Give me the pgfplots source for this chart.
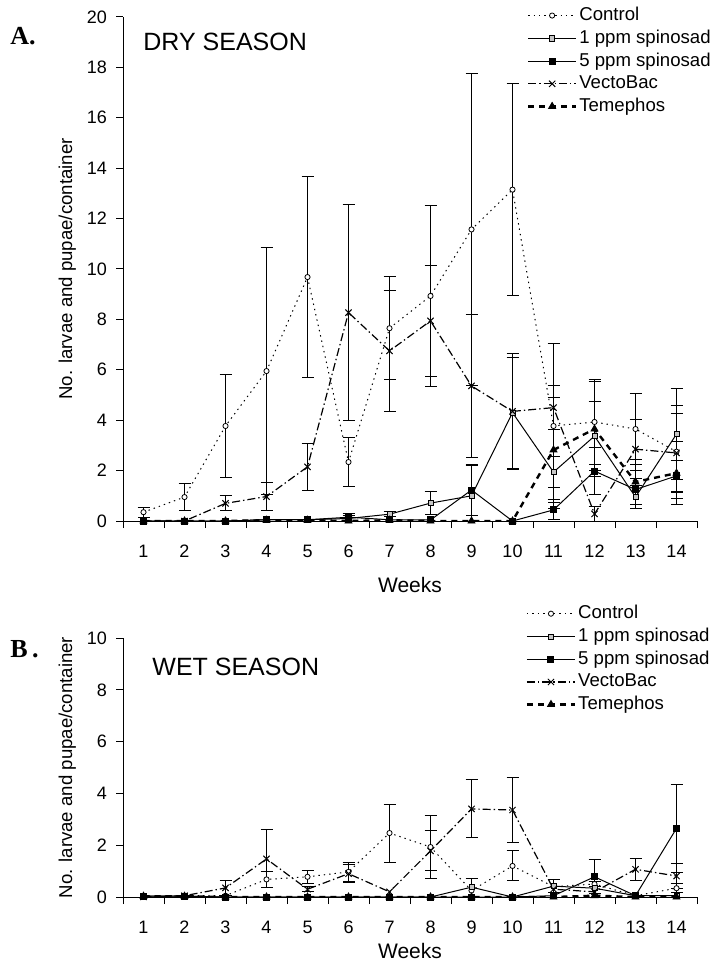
\documentclass[border=0pt]{standalone}
\usepackage{fontspec}
\setmainfont{Liberation Sans}
\newfontfamily\serifbold{Liberation Serif}
\usepackage{pgfplots}
\usepackage{pgfplotstable}
\pgfplotsset{compat=1.18}

% week, control, 1 ppm, 5 ppm, VectoBac, Temephos (mean and error)
\pgfplotstableread{
w  c     ce   p1   p1e  p5   p5e  v    ve   t    te
1  0.35  0.2  0    0    0    0    0    0    0    0
2  0.95  0.55 0    0    0    0    0    0    0    0
3  3.77  2.05 0    0    0    0    0.7  0.3  0    0
4  5.95  4.9  0.05 0    0.05 0    0.97 0.57 0.03 0
5  9.68  4.0  0.05 0    0.05 0    2.15 0.94 0.03 0
6  2.34  0.97 0.1  0.1  0.15 0.15 8.27 4.3  0    0
7  7.65  2.05 0.27 0.1  0.05 0    6.75 2.4  0.03 0
8  8.93  3.6  0.71 0.45 0.04 0    7.94 2.2  0    0
9  11.57 6.2  1.0  1.2  1.23 1.0  5.36 2.85 0    0
10 13.15 4.2  4.3  2.2  0    0    4.35 2.3  0    0
11 3.77  3.28 1.94 0.6  0.44 0.4  4.5  0.86 2.82 2.1
12 3.93  1.7  3.37 1.36 1.98 0.93 0.28 0.3  3.65 1.9
13 3.65  1.42 0.95 0.45 1.25 0.75 2.85 1.18 1.55 0.9
14 2.75  1.85 3.45 1.82 1.79 0.63 2.7  1.58 1.9  1.25
}\dry

\pgfplotstableread{
w  c     ce   p1   p1e  p5   p5e  v    ve   t    te
1  0.03  0    0.03 0    0.03 0    0    0    0.03 0
2  0.05  0    0.03 0    0.03 0    0.05 0    0.03 0
3  0.05  0    0    0    0    0    0.35 0.28 0    0
4  0.68  0.3  0    0    0    0    1.47 1.12 0    0
5  0.78  0.26 0    0    0    0    0.3  0.1  0    0
6  0.97  0.38 0    0    0    0    0.9  0.35 0    0
7  2.47  1.12 0    0    0    0    0.2  0    0    0
8  1.93  1.22 0    0    0    0    1.78 0.77 0    0
9  0.25  0    0.38 0.35 0    0    3.4  1.12 0    0
10 1.2   0.58 0    0    0    0    3.36 1.25 0    0
11 0.4   0    0.42 0.26 0.05 0    0.3  0    0    0
12 0.5   0.1  0.34 0    0.78 0.65 0.2  0    0.05 0
13 0.05  0    0.05 0    0.05 0    1.07 0.43 0    0
14 0.34  0.18 0.05 0    2.65 1.7  0.81 0.5  0    0
}\wet

\pgfplotsset{
  panel/.style={
    scale only axis, width=287pt,
    xmin=0.5, xmax=14.5, ymin=0,
    axis x line*=bottom, axis y line*=left,
    axis line style={line width=0.5pt},
    xtick={1,...,14}, minor xtick={0.5,1.5,...,14.5},
    major x tick style={draw=none},
    tick align=outside, major tick length=3.5pt, minor tick length=3.5pt,
    tick style={black, line width=0.5pt},
    /pgf/number format/assume math mode=true,
    ticklabel style={font=\fontsize{9}{10}\selectfont},
    xticklabel style={yshift=-5pt},
    yticklabel style={xshift=-1pt},
    xlabel={Weeks},
    ylabel={No. larvae and pupae/container},
    label style={font=\fontsize{9.3}{11}\selectfont},
    xlabel style={font=\fontsize{10.5}{12}\selectfont, anchor=center},
    ylabel style={at={(axis description cs:-0.097,0.5)}, anchor=center},
    legend cell align=left,
    legend style={draw=none, fill=none, inner sep=0pt, anchor=north west,
      font=\fontsize{9.3}{11}\selectfont, row sep=1.2pt,
      nodes={inner sep=1pt}},
    legend image code/.code={\draw[mark repeat=2, mark phase=2, ##1]
      plot coordinates {(0pt,0pt) (12pt,0pt) (24pt,0pt)};},
  },
  ctrl/.style={black, line width=0.5pt, dash pattern=on 0.7pt off 2pt,
    mark=*, mark size=1.3pt, mark options={solid, fill=white, line width=0.4pt}},
  pa/.style={black, line width=0.5pt, solid,
    mark=square*, mark size=1.3pt, mark options={solid, fill=gray!45, line width=0.4pt}},
  pb/.style={black, line width=0.5pt, solid,
    mark=square*, mark size=1.5pt, mark options={solid, fill=black}},
  vb/.style={black, line width=0.6pt, dash pattern=on 4pt off 1.5pt on 0.7pt off 1.5pt,
    mark=x, mark size=2.2pt, mark options={solid, line width=0.5pt}},
  tm/.style={black, line width=1.2pt, dash pattern=on 3pt off 2.5pt,
    mark=triangle*, mark size=2pt, mark options={solid, fill=black, line width=0.4pt}},
}

% error bars only where the error is not zero
\newcommand{\eb}[3]{\addplot[forget plot, draw=none, no markers,
  error bars/.cd, y dir=both, y explicit, error mark=-,
  error bar style={draw=black, solid, line width=0.5pt},
  error mark options={draw=black, solid, mark size=3pt, line width=0.5pt, rotate=90}]
  table[x=w, y expr={\thisrow{#3}>0 ? \thisrow{#2} : nan}, y error=#3] {#1};}

\begin{document}
\begin{tikzpicture}
\useasboundingbox (0,0) rectangle (356.5pt,-486pt);

\begin{axis}[panel, at={(61.5pt,-260.5pt)}, anchor=south west,
  height=252pt, ymax=20, ytick={0,2,...,20},
  xlabel style={at={(axis description cs:0.5,-0.127)}},
  legend style={at={(axis description cs:0.703,1.024)}}]
\eb{\dry}{c}{ce}
\eb{\dry}{p1}{p1e}
\eb{\dry}{p5}{p5e}
\eb{\dry}{v}{ve}
\eb{\dry}{t}{te}
\addplot[ctrl] table[x=w, y=c] {\dry};
\addplot[pa] table[x=w, y=p1] {\dry};
\addplot[pb] table[x=w, y=p5] {\dry};
\addplot[vb] table[x=w, y=v] {\dry};
\addplot[tm] table[x=w, y=t] {\dry};
\legend{Control, 1 ppm spinosad, 5 ppm spinosad, VectoBac, Temephos}
\end{axis}

\begin{axis}[panel, at={(61.5pt,-448.5pt)}, anchor=south west,
  height=129.5pt, ymax=10, ytick={0,2,...,10},
  xlabel style={at={(axis description cs:0.5,-0.208)}},
  legend style={at={(axis description cs:0.701,1.135)}}]
\eb{\wet}{c}{ce}
\eb{\wet}{p1}{p1e}
\eb{\wet}{p5}{p5e}
\eb{\wet}{v}{ve}
\eb{\wet}{t}{te}
\addplot[ctrl] table[x=w, y=c] {\wet};
\addplot[pa] table[x=w, y=p1] {\wet};
\addplot[pb] table[x=w, y=p5] {\wet};
\addplot[vb] table[x=w, y=v] {\wet};
\addplot[tm] table[x=w, y=t] {\wet};
\legend{Control, 1 ppm spinosad, 5 ppm spinosad, VectoBac, Temephos}
\end{axis}

\node[anchor=west, inner sep=0pt, font=\fontsize{12.5}{14}\selectfont] at (71.5pt,-20.8pt) {DRY SEASON};
\node[anchor=west, inner sep=0pt, font=\fontsize{12.5}{14}\selectfont] at (76pt,-333.5pt) {WET SEASON};
\node[anchor=west, inner sep=0pt, font=\serifbold\bfseries\fontsize{13}{15}\selectfont] at (5pt,-18pt) {A.};
\node[anchor=west, inner sep=0pt, font=\serifbold\bfseries\fontsize{13}{15}\selectfont] at (5pt,-324.5pt) {B\,.};
\end{tikzpicture}
\end{document}
